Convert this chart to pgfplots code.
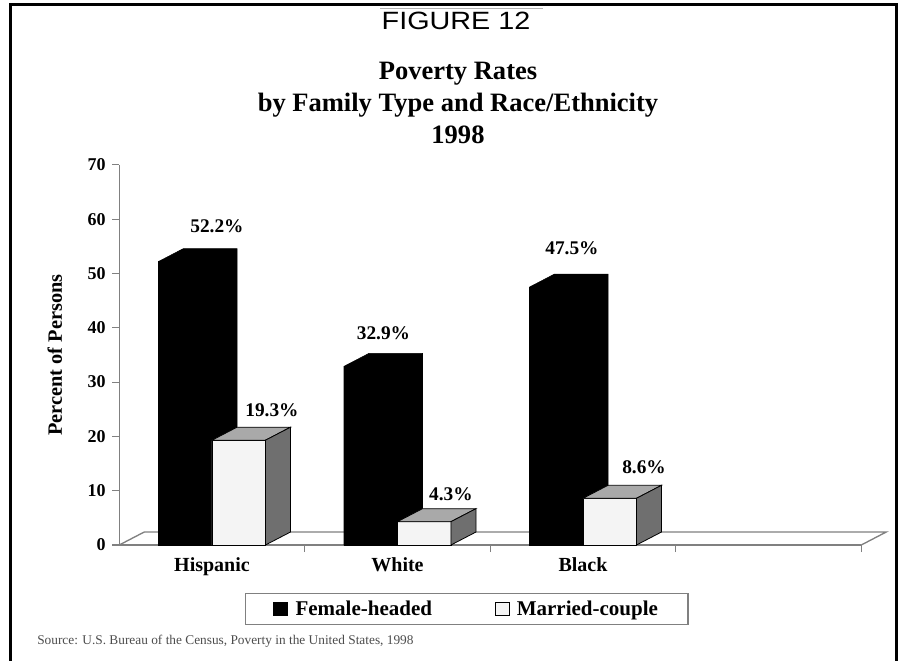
\documentclass[border=0pt]{standalone}
\usepackage{pgfplots}
\pgfplotsset{compat=1.18}
\usepackage{pgfplotstable}
\usepackage{graphicx}
\usepackage{fontspec}
\setmainfont{Liberation Serif}
\newfontfamily\figfont{Liberation Sans}

\definecolor{axgray}{HTML}{808080}
\definecolor{topgray}{HTML}{A9A9A9}
\definecolor{sidegray}{HTML}{6F6F6F}
\definecolor{frontwhite}{HTML}{F4F4F4}

% fonts (1px = 0.75pt)
\newcommand{\titlefont}{\fontsize{19.9}{24}\selectfont\bfseries}
\newcommand{\tickfont}{\fontsize{13.5}{15}\selectfont\bfseries}
\newcommand{\catfont}{\fontsize{15}{17}\selectfont\bfseries}
\newcommand{\ylabfont}{\fontsize{15.25}{17}\selectfont\bfseries}
\newcommand{\labfont}{\fontsize{14.5}{16}\selectfont\bfseries}
\newcommand{\legfont}{\fontsize{15.75}{18}\selectfont\bfseries}
\newcommand{\srcfont}{\fontsize{10}{12}\selectfont}

\pgfplotsset{sqlegend/.style={legend image code/.code={%
  \draw[##1, line width=0.6pt] (0pt,-5pt) rectangle (10.5pt,5pt);
  \path (14pt,0pt);}}}

% 3d depth and bar width, axis units
\def\dX{0.1348}
\def\dY{2.394}
\def\bw{0.2884}

% black bar seen as one silhouette
\newcommand{\blackbox}[2]{%
  \pgfmathsetmacro{\xa}{#1-\bw}%
  \pgfmathsetmacro{\xb}{#1-\bw+\dX}%
  \pgfmathsetmacro{\xc}{#1+\dX}%
  \pgfmathsetmacro{\yt}{#2+\dY}%
  \edef\tmp{\noexpand\addplot[fill=black,draw=black,forget plot]
    coordinates {(\xa,0) (\xa,#2) (\xb,\yt) (\xc,\yt) (\xc,\dY) (#1,0)} -- cycle;}%
  \tmp}
% top and side of the white bar
\newcommand{\whitecap}[2]{%
  \pgfmathsetmacro{\xa}{#1+\dX}%
  \pgfmathsetmacro{\xb}{#1+\bw}%
  \pgfmathsetmacro{\xc}{#1+\bw+\dX}%
  \pgfmathsetmacro{\yt}{#2+\dY}%
  \edef\tmp{\noexpand\addplot[fill=topgray,draw=black,line width=0.6pt,forget plot]
    coordinates {(#1,#2) (\xa,\yt) (\xc,\yt) (\xb,#2)} -- cycle;
    \noexpand\addplot[fill=sidegray,draw=black,line width=0.6pt,forget plot]
    coordinates {(\xb,0) (\xb,#2) (\xc,\yt) (\xc,\dY)} -- cycle;}%
  \tmp}

% label offsets in px, from the group centre and the bar top
\pgfplotstableread{
x female married fdx fdy mdx mdy
0 52.2 19.3 5 35 60 30
1 32.9 4.3 -14 33 53.5 27
2 47.5 8.6 -11 39 61 31
}\povtable

\begin{document}
\begin{tikzpicture}
\begin{axis}[
  x=139.125pt, y=4.0725pt,
  xmin=-0.5, xmax=3.5, ymin=0, ymax=70,
  axis x line*=bottom, axis y line*=left,
  axis line style={axgray, line width=1pt},
  clip=false,
  tick align=outside,
  major tick length=5.25pt,
  tick style={axgray, line width=0.8pt},
  ytick={0,10,...,70},
  yticklabel style={font=\tickfont, xshift=-1.5pt},
  xtick={0.5,1.5,2.5,3.5}, xticklabels={},
  extra x ticks={0,1,2},
  extra x tick labels={Hispanic,White,Black},
  extra x tick style={major tick length=0pt,
    tick label style={font=\catfont, anchor=north, inner sep=0pt, yshift=-9pt}},
  ylabel={Percent of Persons},
  ylabel style={font=\ylabfont, at={(axis description cs:-0.0869,0.5)}, anchor=center},
  /pgf/number format/assume math mode=true,
  legend columns=2,
  legend style={at={(0.4685,-0.1684)}, anchor=center, draw=axgray, line width=1pt,
    font=\legfont, inner xsep=20.5pt, inner ysep=3.5pt,
    /tikz/every even column/.append style={column sep=45pt}},
]
\coordinate (O) at (axis cs:0,0);
% floor
\addplot[draw=axgray, line width=1pt, forget plot]
  coordinates {(-0.5,0) (-0.3652,2.394) (3.6348,2.394) (3.5,0)};

\pgfplotsinvokeforeach{0,1,2}{
  \pgfplotstablegetelem{#1}{female}\of\povtable
  \let\vf\pgfplotsretval
  \blackbox{#1}{\vf}
}

\addplot[ybar, bar width=0.2884, bar shift=-0.1442, fill=black, draw=black, sqlegend,
  nodes near coords={\pgfmathprintnumber[fixed,fixed zerofill,precision=1]{\pgfplotspointmeta}\%},
  visualization depends on={\thisrow{fdx} \as \lx},
  visualization depends on={\thisrow{fdy} \as \ly},
  every node near coord/.append style={font=\labfont, text=black, anchor=center, inner sep=0pt,
    xshift=\lx*0.75pt, yshift=\ly*0.75pt}]
  table[x=x, y=female] {\povtable};
\addlegendentry{Female-headed}

\addplot[ybar, bar width=0.2884, bar shift=0.1442, fill=frontwhite, draw=black, line width=0.6pt, sqlegend,
  nodes near coords={\pgfmathprintnumber[fixed,fixed zerofill,precision=1]{\pgfplotspointmeta}\%},
  visualization depends on={\thisrow{mdx} \as \lx},
  visualization depends on={\thisrow{mdy} \as \ly},
  every node near coord/.append style={font=\labfont, text=black, anchor=center, inner sep=0pt,
    xshift=\lx*0.75pt, yshift=\ly*0.75pt}]
  table[x=x, y=married] {\povtable};
\addlegendentry{Married-couple}

\pgfplotsinvokeforeach{0,1,2}{
  \pgfplotstablegetelem{#1}{married}\of\povtable
  \let\vm\pgfplotsretval
  \whitecap{#1}{\vm}
}
\end{axis}

\begin{scope}[shift={(O)}, x=0.75pt, y=-0.75pt, shift={(-212,-545)}]
  \draw[line width=2.25pt] (11,680) -- (11,5) -- (896,5) -- (896,680);
  \draw[black!30, line width=0.75pt] (380,9) -- (543,9);
  \node[font=\figfont\fontsize{18.75}{22}\selectfont] at (456,21) {\scalebox{1.15}[1]{FIGURE 12}};
  \node[align=center, font=\titlefont] at (458,103)
    {Poverty Rates\\by Family Type and Race/Ethnicity\\1998};
  \node[anchor=west, font=\srcfont, text=black!70, inner sep=0pt] at (37,641)
    {Source: U.S. Bureau of the Census, Poverty in the United States, 1998};
  \pgfresetboundingbox
  \useasboundingbox (0,0) rectangle (901,661);
\end{scope}
\end{tikzpicture}
\end{document}
